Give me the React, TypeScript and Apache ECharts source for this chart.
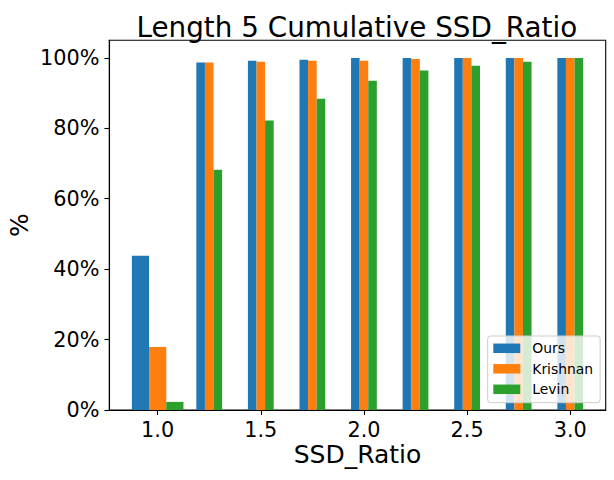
import React, { useEffect, useRef } from "react";
import * as echarts from "echarts";

// Group positions on the SSD_Ratio axis
const ssdRatios = [1.0, 1.25, 1.5, 1.75, 2.0, 2.25, 2.5, 2.75, 3.0];
// Cumulative percentages per method
const oursValues = [43.8, 98.7, 99.2, 99.5, 100, 100, 100, 100, 100];
const krishnanValues = [17.9, 98.7, 98.9, 99.2, 99.2, 99.7, 100, 100, 100];
const levinValues = [2.3, 68.2, 82.2, 88.4, 93.5, 96.4, 97.8, 98.9, 100];
const seriesNames = ["Ours", "Krishnan", "Levin"];
const xTickValues = [1.0, 1.5, 2.0, 2.5, 3.0];
const yTickValues = [0, 20, 40, 60, 80, 100];

// bar widths in axis units (first group drawn wider, as in the reference)
const BAR_W_FIRST = 1 / 12;
const BAR_W_REST = 1 / 24;
const COLORS = ["#1f77b4", "#ff7f0e", "#2ca02c"];
const FONT = "DejaVu Sans";

function buildSeries(name: string, values: number[], idx: number, color: string) {
  const offsets = [-1, 0, 1];
  const data = ssdRatios.map((x, i) => {
    const w = i === 0 ? BAR_W_FIRST : BAR_W_REST;
    return [x + offsets[idx] * w, values[i], w];
  });
  return {
    type: "custom",
    name,
    itemStyle: { color },
    data,
    encode: { x: 0, y: 1 },
    renderItem: (params: any, api: any) => {
      const x = api.value(0);
      const y = api.value(1);
      const w = api.value(2);
      const p0 = api.coord([x - w / 2, y]);
      const p1 = api.coord([x + w / 2, 0]);
      return {
        type: "rect",
        shape: { x: p0[0], y: p0[1], width: p1[0] - p0[0], height: p1[1] - p0[1] },
        style: { fill: color },
      };
    },
  };
}

export default function App() {
  const ref = useRef<HTMLDivElement>(null);
  useEffect(() => {
    if (!ref.current) return;
    const chart = echarts.init(ref.current, undefined, { renderer: "svg" });
    const option: any = {
      animation: false,
      backgroundColor: "#ffffff",
      title: {
        text: "Length 5 Cumulative SSD_Ratio",
        left: 136.5,
        top: 13.6,
        padding: 0,
        textStyle: { fontFamily: FONT, fontSize: 27.8, fontWeight: "normal", color: "#000" },
      },
      grid: {
        left: 109.3,
        top: 40.3,
        right: 8.3,
        bottom: 70,
        containLabel: false,
        outerBoundsMode: "none",
        show: true,
        borderColor: "#000",
        borderWidth: 1.1,
      },
      legend: {
        orient: "vertical",
        left: 487.7,
        top: 336,
        padding: [5.3, 7, 6.4, 5.6],
        itemGap: 6.5,
        itemWidth: 27,
        itemHeight: 9.5,
        icon: "rect",
        backgroundColor: "rgba(255,255,255,0.8)",
        borderColor: "#cccccc",
        borderWidth: 1,
        borderRadius: 3,
        data: seriesNames,
        textStyle: { fontFamily: FONT, fontSize: 13.9, color: "#000", padding: [0, 0, 0, 7] },
      },
      xAxis: {
        type: "value",
        min: 0.765625,
        max: 3.171875,
        name: "SSD_Ratio",
        nameLocation: "middle",
        nameGap: 32,
        nameMoveOverlap: false,
        nameTextStyle: { fontFamily: FONT, fontSize: 25, color: "#000", verticalAlign: "top" },
        axisLine: { show: true, onZero: false, lineStyle: { color: "#000", width: 1.1 } },
        axisTick: { show: true, customValues: xTickValues, length: 4.9, lineStyle: { color: "#000", width: 1.1 } },
        axisLabel: {
          customValues: xTickValues,
          margin: 9.8,
          fontFamily: FONT,
          fontSize: 20.8,
          color: "#000",
          formatter: (v: number) => v.toFixed(1),
        },
        splitLine: { show: false },
      },
      yAxis: {
        type: "value",
        min: 0,
        max: 105,
        name: "%",
        nameLocation: "middle",
        nameGap: 77,
        nameMoveOverlap: false,
        nameTextStyle: { fontFamily: FONT, fontSize: 25, color: "#000" },
        axisLine: { show: true, lineStyle: { color: "#000", width: 1.1 } },
        axisTick: { show: true, customValues: yTickValues, length: 4.9, lineStyle: { color: "#000", width: 1.1 } },
        axisLabel: {
          customValues: yTickValues,
          margin: 9.8,
          fontFamily: FONT,
          fontSize: 20.8,
          color: "#000",
          formatter: (v: number) => `${v}%`,
        },
        splitLine: { show: false },
      },
      series: [
        buildSeries(seriesNames[0], oursValues, 0, COLORS[0]),
        buildSeries(seriesNames[1], krishnanValues, 1, COLORS[1]),
        buildSeries(seriesNames[2], levinValues, 2, COLORS[2]),
      ],
    };
    chart.setOption(option);
    return () => chart.dispose();
  }, []);
  return (
    <div
      ref={ref}
      style={{ position: "fixed", left: 0, top: 0, width: 614, height: 480 }}
    />
  );
}
